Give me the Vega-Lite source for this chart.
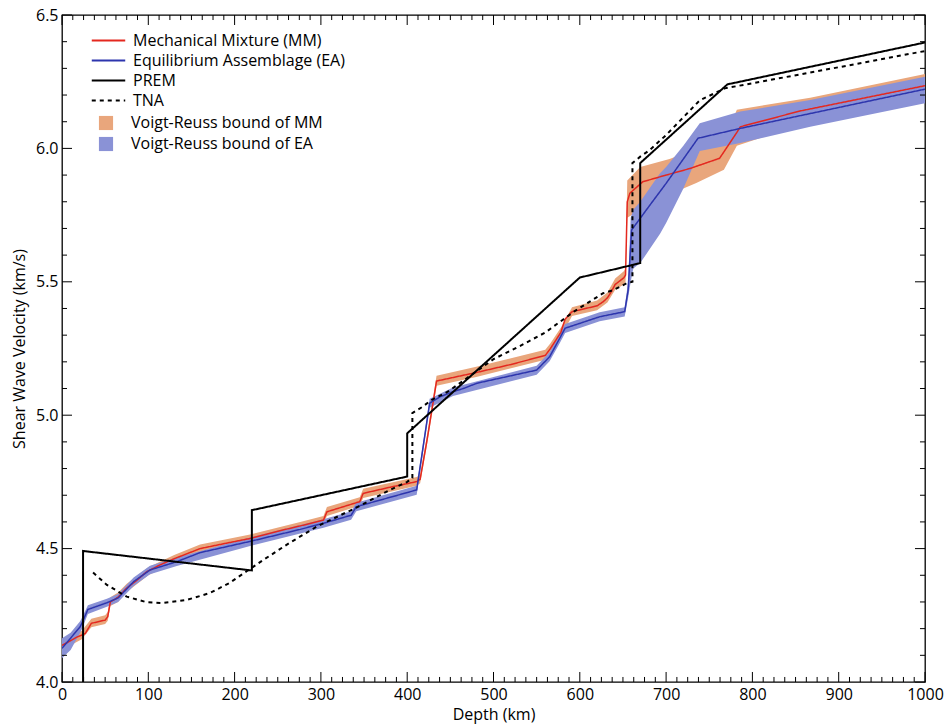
{
  "$schema": "https://vega.github.io/schema/vega-lite/v6.json",
  "width": 863,
  "height": 667,
  "autosize": {"type": "none"},
  "padding": {"left": 62, "top": 15, "right": 26, "bottom": 44},
  "background": "white",
  "config": {
    "view": {"stroke": "black", "strokeWidth": 1.3},
    "font": "Open Sans",
    "axis": {"grid": false, "labelFont": "Open Sans", "labelFontSize": 16, "labelColor": "black", "titleFont": "Open Sans", "titleFontSize": 16, "titleFontWeight": "normal", "titleColor": "black", "ticks": false, "domain": false, "labelFlush": false, "labelOverlap": false},
    "legend": {"labelFont": "Open Sans", "labelFontSize": 16, "labelColor": "black", "labelLimit": 0}
  },
  "datasets": {
    "xmaj": [{"v": 0}, {"v": 100}, {"v": 200}, {"v": 300}, {"v": 400}, {"v": 500}, {"v": 600}, {"v": 700}, {"v": 800}, {"v": 900}, {"v": 1000}],
    "xmin": [{"v": 12.5}, {"v": 25}, {"v": 37.5}, {"v": 50}, {"v": 62.5}, {"v": 75}, {"v": 87.5}, {"v": 112.5}, {"v": 125}, {"v": 137.5}, {"v": 150}, {"v": 162.5}, {"v": 175}, {"v": 187.5}, {"v": 212.5}, {"v": 225}, {"v": 237.5}, {"v": 250}, {"v": 262.5}, {"v": 275}, {"v": 287.5}, {"v": 312.5}, {"v": 325}, {"v": 337.5}, {"v": 350}, {"v": 362.5}, {"v": 375}, {"v": 387.5}, {"v": 412.5}, {"v": 425}, {"v": 437.5}, {"v": 450}, {"v": 462.5}, {"v": 475}, {"v": 487.5}, {"v": 512.5}, {"v": 525}, {"v": 537.5}, {"v": 550}, {"v": 562.5}, {"v": 575}, {"v": 587.5}, {"v": 612.5}, {"v": 625}, {"v": 637.5}, {"v": 650}, {"v": 662.5}, {"v": 675}, {"v": 687.5}, {"v": 712.5}, {"v": 725}, {"v": 737.5}, {"v": 750}, {"v": 762.5}, {"v": 775}, {"v": 787.5}, {"v": 812.5}, {"v": 825}, {"v": 837.5}, {"v": 850}, {"v": 862.5}, {"v": 875}, {"v": 887.5}, {"v": 912.5}, {"v": 925}, {"v": 937.5}, {"v": 950}, {"v": 962.5}, {"v": 975}, {"v": 987.5}],
    "ymaj": [{"v": 4.0}, {"v": 4.5}, {"v": 5.0}, {"v": 5.5}, {"v": 6.0}, {"v": 6.5}],
    "ymin": [{"v": 4.1}, {"v": 4.2}, {"v": 4.3}, {"v": 4.4}, {"v": 4.6}, {"v": 4.7}, {"v": 4.8}, {"v": 4.9}, {"v": 5.1}, {"v": 5.2}, {"v": 5.3}, {"v": 5.4}, {"v": 5.6}, {"v": 5.7}, {"v": 5.8}, {"v": 5.9}, {"v": 6.1}, {"v": 6.2}, {"v": 6.3}, {"v": 6.4}],
    "models": [
      {"series": "Mechanical Mixture (MM)", "i": 0, "depth": 0, "vs": 4.137},
      {"series": "Mechanical Mixture (MM)", "i": 1, "depth": 17, "vs": 4.168},
      {"series": "Mechanical Mixture (MM)", "i": 2, "depth": 23, "vs": 4.176},
      {"series": "Mechanical Mixture (MM)", "i": 3, "depth": 27, "vs": 4.182},
      {"series": "Mechanical Mixture (MM)", "i": 4, "depth": 34, "vs": 4.22},
      {"series": "Mechanical Mixture (MM)", "i": 5, "depth": 50, "vs": 4.232},
      {"series": "Mechanical Mixture (MM)", "i": 6, "depth": 53, "vs": 4.245},
      {"series": "Mechanical Mixture (MM)", "i": 7, "depth": 56, "vs": 4.3},
      {"series": "Mechanical Mixture (MM)", "i": 8, "depth": 65, "vs": 4.318},
      {"series": "Mechanical Mixture (MM)", "i": 9, "depth": 75, "vs": 4.352},
      {"series": "Mechanical Mixture (MM)", "i": 10, "depth": 87, "vs": 4.382},
      {"series": "Mechanical Mixture (MM)", "i": 11, "depth": 98, "vs": 4.413},
      {"series": "Mechanical Mixture (MM)", "i": 12, "depth": 113, "vs": 4.438},
      {"series": "Mechanical Mixture (MM)", "i": 13, "depth": 130, "vs": 4.462},
      {"series": "Mechanical Mixture (MM)", "i": 14, "depth": 160, "vs": 4.5},
      {"series": "Mechanical Mixture (MM)", "i": 15, "depth": 190, "vs": 4.52},
      {"series": "Mechanical Mixture (MM)", "i": 16, "depth": 218, "vs": 4.538},
      {"series": "Mechanical Mixture (MM)", "i": 17, "depth": 250, "vs": 4.565},
      {"series": "Mechanical Mixture (MM)", "i": 18, "depth": 276, "vs": 4.585},
      {"series": "Mechanical Mixture (MM)", "i": 19, "depth": 303, "vs": 4.607},
      {"series": "Mechanical Mixture (MM)", "i": 20, "depth": 307, "vs": 4.638},
      {"series": "Mechanical Mixture (MM)", "i": 21, "depth": 345, "vs": 4.676},
      {"series": "Mechanical Mixture (MM)", "i": 22, "depth": 349, "vs": 4.707},
      {"series": "Mechanical Mixture (MM)", "i": 23, "depth": 380, "vs": 4.73},
      {"series": "Mechanical Mixture (MM)", "i": 24, "depth": 411, "vs": 4.751},
      {"series": "Mechanical Mixture (MM)", "i": 25, "depth": 415, "vs": 4.76},
      {"series": "Mechanical Mixture (MM)", "i": 26, "depth": 423, "vs": 4.907},
      {"series": "Mechanical Mixture (MM)", "i": 27, "depth": 434, "vs": 5.128},
      {"series": "Mechanical Mixture (MM)", "i": 28, "depth": 480, "vs": 5.16},
      {"series": "Mechanical Mixture (MM)", "i": 29, "depth": 520, "vs": 5.19},
      {"series": "Mechanical Mixture (MM)", "i": 30, "depth": 560, "vs": 5.224},
      {"series": "Mechanical Mixture (MM)", "i": 31, "depth": 566, "vs": 5.25},
      {"series": "Mechanical Mixture (MM)", "i": 32, "depth": 578, "vs": 5.31},
      {"series": "Mechanical Mixture (MM)", "i": 33, "depth": 583, "vs": 5.36},
      {"series": "Mechanical Mixture (MM)", "i": 34, "depth": 591, "vs": 5.388},
      {"series": "Mechanical Mixture (MM)", "i": 35, "depth": 620, "vs": 5.41},
      {"series": "Mechanical Mixture (MM)", "i": 36, "depth": 627, "vs": 5.425},
      {"series": "Mechanical Mixture (MM)", "i": 37, "depth": 632, "vs": 5.44},
      {"series": "Mechanical Mixture (MM)", "i": 38, "depth": 636, "vs": 5.46},
      {"series": "Mechanical Mixture (MM)", "i": 39, "depth": 641, "vs": 5.49},
      {"series": "Mechanical Mixture (MM)", "i": 40, "depth": 651, "vs": 5.515},
      {"series": "Mechanical Mixture (MM)", "i": 41, "depth": 653, "vs": 5.525},
      {"series": "Mechanical Mixture (MM)", "i": 42, "depth": 655, "vs": 5.8},
      {"series": "Mechanical Mixture (MM)", "i": 43, "depth": 658, "vs": 5.832},
      {"series": "Mechanical Mixture (MM)", "i": 44, "depth": 673, "vs": 5.875},
      {"series": "Mechanical Mixture (MM)", "i": 45, "depth": 700, "vs": 5.9},
      {"series": "Mechanical Mixture (MM)", "i": 46, "depth": 728, "vs": 5.925},
      {"series": "Mechanical Mixture (MM)", "i": 47, "depth": 762, "vs": 5.963},
      {"series": "Mechanical Mixture (MM)", "i": 48, "depth": 782, "vs": 6.06},
      {"series": "Mechanical Mixture (MM)", "i": 49, "depth": 786, "vs": 6.081},
      {"series": "Mechanical Mixture (MM)", "i": 50, "depth": 855, "vs": 6.14},
      {"series": "Mechanical Mixture (MM)", "i": 51, "depth": 1000, "vs": 6.235},
      {"series": "Equilibrium Assemblage (EA)", "i": 0, "depth": 0, "vs": 4.126},
      {"series": "Equilibrium Assemblage (EA)", "i": 1, "depth": 21, "vs": 4.207},
      {"series": "Equilibrium Assemblage (EA)", "i": 2, "depth": 23, "vs": 4.22},
      {"series": "Equilibrium Assemblage (EA)", "i": 3, "depth": 30, "vs": 4.272},
      {"series": "Equilibrium Assemblage (EA)", "i": 4, "depth": 52, "vs": 4.297},
      {"series": "Equilibrium Assemblage (EA)", "i": 5, "depth": 65, "vs": 4.315},
      {"series": "Equilibrium Assemblage (EA)", "i": 6, "depth": 83, "vs": 4.376},
      {"series": "Equilibrium Assemblage (EA)", "i": 7, "depth": 102, "vs": 4.42},
      {"series": "Equilibrium Assemblage (EA)", "i": 8, "depth": 133, "vs": 4.451},
      {"series": "Equilibrium Assemblage (EA)", "i": 9, "depth": 160, "vs": 4.485},
      {"series": "Equilibrium Assemblage (EA)", "i": 10, "depth": 218, "vs": 4.527},
      {"series": "Equilibrium Assemblage (EA)", "i": 11, "depth": 276, "vs": 4.572},
      {"series": "Equilibrium Assemblage (EA)", "i": 12, "depth": 303, "vs": 4.595},
      {"series": "Equilibrium Assemblage (EA)", "i": 13, "depth": 335, "vs": 4.625},
      {"series": "Equilibrium Assemblage (EA)", "i": 14, "depth": 341, "vs": 4.657},
      {"series": "Equilibrium Assemblage (EA)", "i": 15, "depth": 411, "vs": 4.72},
      {"series": "Equilibrium Assemblage (EA)", "i": 16, "depth": 426, "vs": 5.045},
      {"series": "Equilibrium Assemblage (EA)", "i": 17, "depth": 438, "vs": 5.069},
      {"series": "Equilibrium Assemblage (EA)", "i": 18, "depth": 453, "vs": 5.088},
      {"series": "Equilibrium Assemblage (EA)", "i": 19, "depth": 465, "vs": 5.1},
      {"series": "Equilibrium Assemblage (EA)", "i": 20, "depth": 481, "vs": 5.12},
      {"series": "Equilibrium Assemblage (EA)", "i": 21, "depth": 550, "vs": 5.169},
      {"series": "Equilibrium Assemblage (EA)", "i": 22, "depth": 565, "vs": 5.219},
      {"series": "Equilibrium Assemblage (EA)", "i": 23, "depth": 577, "vs": 5.29},
      {"series": "Equilibrium Assemblage (EA)", "i": 24, "depth": 583, "vs": 5.326},
      {"series": "Equilibrium Assemblage (EA)", "i": 25, "depth": 623, "vs": 5.369},
      {"series": "Equilibrium Assemblage (EA)", "i": 26, "depth": 652, "vs": 5.388},
      {"series": "Equilibrium Assemblage (EA)", "i": 27, "depth": 656, "vs": 5.469},
      {"series": "Equilibrium Assemblage (EA)", "i": 28, "depth": 660, "vs": 5.694},
      {"series": "Equilibrium Assemblage (EA)", "i": 29, "depth": 677, "vs": 5.769},
      {"series": "Equilibrium Assemblage (EA)", "i": 30, "depth": 700, "vs": 5.869},
      {"series": "Equilibrium Assemblage (EA)", "i": 31, "depth": 737, "vs": 6.038},
      {"series": "Equilibrium Assemblage (EA)", "i": 32, "depth": 778, "vs": 6.069},
      {"series": "Equilibrium Assemblage (EA)", "i": 33, "depth": 786, "vs": 6.075},
      {"series": "Equilibrium Assemblage (EA)", "i": 34, "depth": 1000, "vs": 6.222}
    ],
    "refs": [
      {"series": "PREM", "i": 0, "depth": 24.4, "vs": 4.0},
      {"series": "PREM", "i": 1, "depth": 24.4, "vs": 4.491},
      {"series": "PREM", "i": 2, "depth": 220, "vs": 4.418},
      {"series": "PREM", "i": 3, "depth": 220, "vs": 4.644},
      {"series": "PREM", "i": 4, "depth": 400, "vs": 4.77},
      {"series": "PREM", "i": 5, "depth": 400, "vs": 4.932},
      {"series": "PREM", "i": 6, "depth": 600, "vs": 5.516},
      {"series": "PREM", "i": 7, "depth": 670, "vs": 5.57},
      {"series": "PREM", "i": 8, "depth": 670, "vs": 5.945},
      {"series": "PREM", "i": 9, "depth": 771, "vs": 6.24},
      {"series": "PREM", "i": 10, "depth": 1000, "vs": 6.397},
      {"series": "TNA", "i": 0, "depth": 36, "vs": 4.41},
      {"series": "TNA", "i": 1, "depth": 52, "vs": 4.364},
      {"series": "TNA", "i": 2, "depth": 75, "vs": 4.32},
      {"series": "TNA", "i": 3, "depth": 98, "vs": 4.299},
      {"series": "TNA", "i": 4, "depth": 117, "vs": 4.296},
      {"series": "TNA", "i": 5, "depth": 144, "vs": 4.307},
      {"series": "TNA", "i": 6, "depth": 171, "vs": 4.333},
      {"series": "TNA", "i": 7, "depth": 194, "vs": 4.371},
      {"series": "TNA", "i": 8, "depth": 214, "vs": 4.415},
      {"series": "TNA", "i": 9, "depth": 233, "vs": 4.457},
      {"series": "TNA", "i": 10, "depth": 263, "vs": 4.52},
      {"series": "TNA", "i": 11, "depth": 295, "vs": 4.582},
      {"series": "TNA", "i": 12, "depth": 345, "vs": 4.66},
      {"series": "TNA", "i": 13, "depth": 380, "vs": 4.72},
      {"series": "TNA", "i": 14, "depth": 400, "vs": 4.75},
      {"series": "TNA", "i": 15, "depth": 406, "vs": 4.765},
      {"series": "TNA", "i": 16, "depth": 406, "vs": 5.008},
      {"series": "TNA", "i": 17, "depth": 418, "vs": 5.032},
      {"series": "TNA", "i": 18, "depth": 428, "vs": 5.057},
      {"series": "TNA", "i": 19, "depth": 447, "vs": 5.088},
      {"series": "TNA", "i": 20, "depth": 500, "vs": 5.21},
      {"series": "TNA", "i": 21, "depth": 531, "vs": 5.26},
      {"series": "TNA", "i": 22, "depth": 560, "vs": 5.31},
      {"series": "TNA", "i": 23, "depth": 577, "vs": 5.35},
      {"series": "TNA", "i": 24, "depth": 594, "vs": 5.39},
      {"series": "TNA", "i": 25, "depth": 627, "vs": 5.457},
      {"series": "TNA", "i": 26, "depth": 639, "vs": 5.469},
      {"series": "TNA", "i": 27, "depth": 654, "vs": 5.494},
      {"series": "TNA", "i": 28, "depth": 661, "vs": 5.5},
      {"series": "TNA", "i": 29, "depth": 661, "vs": 5.945},
      {"series": "TNA", "i": 30, "depth": 670, "vs": 5.969},
      {"series": "TNA", "i": 31, "depth": 681, "vs": 5.994},
      {"series": "TNA", "i": 32, "depth": 700, "vs": 6.05},
      {"series": "TNA", "i": 33, "depth": 739, "vs": 6.18},
      {"series": "TNA", "i": 34, "depth": 768, "vs": 6.225},
      {"series": "TNA", "i": 35, "depth": 893, "vs": 6.3},
      {"series": "TNA", "i": 36, "depth": 1000, "vs": 6.365}
    ],
    "bandMM": [
      {"band": "Voigt-Reuss bound of MM", "depth": 0, "lo": 4.12, "hi": 4.155},
      {"band": "Voigt-Reuss bound of MM", "depth": 17, "lo": 4.15, "hi": 4.185},
      {"band": "Voigt-Reuss bound of MM", "depth": 23, "lo": 4.16, "hi": 4.192},
      {"band": "Voigt-Reuss bound of MM", "depth": 34, "lo": 4.205, "hi": 4.237},
      {"band": "Voigt-Reuss bound of MM", "depth": 50, "lo": 4.217, "hi": 4.25},
      {"band": "Voigt-Reuss bound of MM", "depth": 53, "lo": 4.23, "hi": 4.262},
      {"band": "Voigt-Reuss bound of MM", "depth": 56, "lo": 4.285, "hi": 4.318},
      {"band": "Voigt-Reuss bound of MM", "depth": 65, "lo": 4.3, "hi": 4.335},
      {"band": "Voigt-Reuss bound of MM", "depth": 75, "lo": 4.337, "hi": 4.368},
      {"band": "Voigt-Reuss bound of MM", "depth": 100, "lo": 4.4, "hi": 4.43},
      {"band": "Voigt-Reuss bound of MM", "depth": 130, "lo": 4.447, "hi": 4.476},
      {"band": "Voigt-Reuss bound of MM", "depth": 160, "lo": 4.487, "hi": 4.515},
      {"band": "Voigt-Reuss bound of MM", "depth": 218, "lo": 4.524, "hi": 4.553},
      {"band": "Voigt-Reuss bound of MM", "depth": 276, "lo": 4.571, "hi": 4.6},
      {"band": "Voigt-Reuss bound of MM", "depth": 303, "lo": 4.594, "hi": 4.622},
      {"band": "Voigt-Reuss bound of MM", "depth": 307, "lo": 4.622, "hi": 4.656},
      {"band": "Voigt-Reuss bound of MM", "depth": 345, "lo": 4.661, "hi": 4.692},
      {"band": "Voigt-Reuss bound of MM", "depth": 349, "lo": 4.69, "hi": 4.724},
      {"band": "Voigt-Reuss bound of MM", "depth": 411, "lo": 4.736, "hi": 4.768},
      {"band": "Voigt-Reuss bound of MM", "depth": 415, "lo": 4.745, "hi": 4.777},
      {"band": "Voigt-Reuss bound of MM", "depth": 423, "lo": 4.89, "hi": 4.925},
      {"band": "Voigt-Reuss bound of MM", "depth": 434, "lo": 5.11, "hi": 5.148},
      {"band": "Voigt-Reuss bound of MM", "depth": 480, "lo": 5.143, "hi": 5.182},
      {"band": "Voigt-Reuss bound of MM", "depth": 560, "lo": 5.208, "hi": 5.245},
      {"band": "Voigt-Reuss bound of MM", "depth": 566, "lo": 5.235, "hi": 5.27},
      {"band": "Voigt-Reuss bound of MM", "depth": 578, "lo": 5.293, "hi": 5.328},
      {"band": "Voigt-Reuss bound of MM", "depth": 591, "lo": 5.372, "hi": 5.405},
      {"band": "Voigt-Reuss bound of MM", "depth": 620, "lo": 5.393, "hi": 5.43},
      {"band": "Voigt-Reuss bound of MM", "depth": 632, "lo": 5.422, "hi": 5.46},
      {"band": "Voigt-Reuss bound of MM", "depth": 641, "lo": 5.47, "hi": 5.512},
      {"band": "Voigt-Reuss bound of MM", "depth": 651, "lo": 5.49, "hi": 5.54},
      {"band": "Voigt-Reuss bound of MM", "depth": 653, "lo": 5.5, "hi": 5.55},
      {"band": "Voigt-Reuss bound of MM", "depth": 655, "lo": 5.74, "hi": 5.88},
      {"band": "Voigt-Reuss bound of MM", "depth": 670, "lo": 5.77, "hi": 5.93},
      {"band": "Voigt-Reuss bound of MM", "depth": 704, "lo": 5.82, "hi": 5.96},
      {"band": "Voigt-Reuss bound of MM", "depth": 720, "lo": 5.85, "hi": 5.98},
      {"band": "Voigt-Reuss bound of MM", "depth": 735, "lo": 5.87, "hi": 6.0},
      {"band": "Voigt-Reuss bound of MM", "depth": 767, "lo": 5.92, "hi": 6.03},
      {"band": "Voigt-Reuss bound of MM", "depth": 782, "lo": 6.01, "hi": 6.145},
      {"band": "Voigt-Reuss bound of MM", "depth": 867, "lo": 6.1, "hi": 6.19},
      {"band": "Voigt-Reuss bound of MM", "depth": 1000, "lo": 6.19, "hi": 6.279}
    ],
    "bandEA": [
      {"band": "Voigt-Reuss bound of EA", "depth": 0, "lo": 4.089, "hi": 4.164},
      {"band": "Voigt-Reuss bound of EA", "depth": 10, "lo": 4.12, "hi": 4.185},
      {"band": "Voigt-Reuss bound of EA", "depth": 21, "lo": 4.185, "hi": 4.228},
      {"band": "Voigt-Reuss bound of EA", "depth": 23, "lo": 4.198, "hi": 4.24},
      {"band": "Voigt-Reuss bound of EA", "depth": 30, "lo": 4.255, "hi": 4.288},
      {"band": "Voigt-Reuss bound of EA", "depth": 52, "lo": 4.282, "hi": 4.312},
      {"band": "Voigt-Reuss bound of EA", "depth": 65, "lo": 4.3, "hi": 4.33},
      {"band": "Voigt-Reuss bound of EA", "depth": 83, "lo": 4.36, "hi": 4.392},
      {"band": "Voigt-Reuss bound of EA", "depth": 102, "lo": 4.404, "hi": 4.436},
      {"band": "Voigt-Reuss bound of EA", "depth": 133, "lo": 4.435, "hi": 4.467},
      {"band": "Voigt-Reuss bound of EA", "depth": 218, "lo": 4.51, "hi": 4.542},
      {"band": "Voigt-Reuss bound of EA", "depth": 303, "lo": 4.578, "hi": 4.61},
      {"band": "Voigt-Reuss bound of EA", "depth": 335, "lo": 4.608, "hi": 4.64},
      {"band": "Voigt-Reuss bound of EA", "depth": 341, "lo": 4.64, "hi": 4.672},
      {"band": "Voigt-Reuss bound of EA", "depth": 411, "lo": 4.702, "hi": 4.736},
      {"band": "Voigt-Reuss bound of EA", "depth": 426, "lo": 5.028, "hi": 5.062},
      {"band": "Voigt-Reuss bound of EA", "depth": 453, "lo": 5.072, "hi": 5.104},
      {"band": "Voigt-Reuss bound of EA", "depth": 550, "lo": 5.152, "hi": 5.185},
      {"band": "Voigt-Reuss bound of EA", "depth": 565, "lo": 5.202, "hi": 5.236},
      {"band": "Voigt-Reuss bound of EA", "depth": 577, "lo": 5.272, "hi": 5.306},
      {"band": "Voigt-Reuss bound of EA", "depth": 583, "lo": 5.308, "hi": 5.342},
      {"band": "Voigt-Reuss bound of EA", "depth": 623, "lo": 5.352, "hi": 5.386},
      {"band": "Voigt-Reuss bound of EA", "depth": 652, "lo": 5.37, "hi": 5.405},
      {"band": "Voigt-Reuss bound of EA", "depth": 656, "lo": 5.44, "hi": 5.5},
      {"band": "Voigt-Reuss bound of EA", "depth": 659, "lo": 5.5, "hi": 5.74},
      {"band": "Voigt-Reuss bound of EA", "depth": 662, "lo": 5.55, "hi": 5.77},
      {"band": "Voigt-Reuss bound of EA", "depth": 670, "lo": 5.57, "hi": 5.8},
      {"band": "Voigt-Reuss bound of EA", "depth": 693, "lo": 5.68, "hi": 5.907},
      {"band": "Voigt-Reuss bound of EA", "depth": 700, "lo": 5.72, "hi": 5.93},
      {"band": "Voigt-Reuss bound of EA", "depth": 720, "lo": 5.85, "hi": 6.01},
      {"band": "Voigt-Reuss bound of EA", "depth": 739, "lo": 5.99, "hi": 6.094},
      {"band": "Voigt-Reuss bound of EA", "depth": 786, "lo": 6.02, "hi": 6.138},
      {"band": "Voigt-Reuss bound of EA", "depth": 867, "lo": 6.081, "hi": 6.181},
      {"band": "Voigt-Reuss bound of EA", "depth": 1000, "lo": 6.169, "hi": 6.269}
    ]
  },
  "layer": [
    {
      "data": {"name": "bandMM"},
      "mark": {"type": "area", "clip": true},
      "encoding": {
        "x": {"field": "depth", "type": "quantitative", "scale": {"domain": [0, 1000], "nice": false, "zero": false},
          "axis": {"orient": "bottom", "title": "Depth (km)", "format": "d", "values": [0, 100, 200, 300, 400, 500, 600, 700, 800, 900, 1000], "labelPadding": 4, "titlePadding": 4}},
        "y": {"field": "lo", "type": "quantitative", "scale": {"domain": [4.0, 6.5], "nice": false, "zero": false},
          "axis": {"orient": "left", "title": "Shear Wave Velocity (km/s)", "values": [4.0, 4.5, 5.0, 5.5, 6.0, 6.5], "format": ".1f", "labelPadding": 4, "titlePadding": 8}},
        "y2": {"field": "hi"},
        "fill": {"field": "band", "type": "nominal",
          "scale": {"domain": ["Voigt-Reuss bound of MM", "Voigt-Reuss bound of EA"], "range": ["#e9a67c", "#8a92d6"]},
          "legend": {"title": null, "orient": "none", "legendX": 36, "legendY": 100, "symbolType": "square", "symbolSize": 200, "symbolStrokeWidth": 0, "symbolOpacity": 1, "labelOffset": 17, "rowPadding": 5}}
      }
    },
    {
      "data": {"name": "bandEA"},
      "mark": {"type": "area", "clip": true},
      "encoding": {
        "x": {"field": "depth", "type": "quantitative"},
        "y": {"field": "lo", "type": "quantitative"},
        "y2": {"field": "hi"},
        "fill": {"field": "band", "type": "nominal",
          "legend": {"title": null, "orient": "none", "legendX": 36, "legendY": 100, "symbolType": "square", "symbolSize": 200, "symbolStrokeWidth": 0, "symbolOpacity": 1, "labelOffset": 17, "rowPadding": 5}}
      }
    },
    {
      "data": {"name": "models"},
      "mark": {"type": "line", "clip": true, "strokeWidth": 1.5},
      "encoding": {
        "x": {"field": "depth", "type": "quantitative"},
        "y": {"field": "vs", "type": "quantitative"},
        "order": {"field": "i", "type": "quantitative"},
        "stroke": {"field": "series", "type": "nominal",
          "scale": {"domain": ["Mechanical Mixture (MM)", "Equilibrium Assemblage (EA)", "PREM", "TNA"], "range": ["#e4281f", "#2d35ad", "#000000", "#000000"]},
          "legend": {"title": null, "orient": "none", "legendX": 37, "legendY": 16, "symbolType": "M-2,0H2", "symbolSize": 280, "symbolStrokeWidth": 1.8, "labelOffset": 15, "rowPadding": 2}},
        "strokeDash": {"field": "series", "type": "nominal",
          "scale": {"domain": ["Mechanical Mixture (MM)", "Equilibrium Assemblage (EA)", "PREM", "TNA"], "range": [[1, 0], [1, 0], [1, 0], [4, 4]]},
          "legend": {"title": null, "orient": "none", "legendX": 37, "legendY": 16, "symbolType": "M-2,0H2", "symbolSize": 280, "symbolStrokeWidth": 1.8, "labelOffset": 15, "rowPadding": 2}}
      }
    },
    {
      "data": {"name": "refs"},
      "mark": {"type": "line", "clip": true, "strokeWidth": 2},
      "encoding": {
        "x": {"field": "depth", "type": "quantitative"},
        "y": {"field": "vs", "type": "quantitative"},
        "order": {"field": "i", "type": "quantitative"},
        "stroke": {"field": "series", "type": "nominal",
          "legend": {"title": null, "orient": "none", "legendX": 37, "legendY": 16, "symbolType": "M-2,0H2", "symbolSize": 280, "symbolStrokeWidth": 1.8, "labelOffset": 15, "rowPadding": 2}},
        "strokeDash": {"field": "series", "type": "nominal",
          "legend": {"title": null, "orient": "none", "legendX": 37, "legendY": 16, "symbolType": "M-2,0H2", "symbolSize": 280, "symbolStrokeWidth": 1.8, "labelOffset": 15, "rowPadding": 2}}
      }
    },
    {
      "data": {"name": "xmaj"},
      "mark": {"type": "rule", "color": "black", "strokeWidth": 1},
      "encoding": {"x": {"field": "v", "type": "quantitative"}, "y": {"datum": 4.0, "type": "quantitative"}, "y2": {"datum": 4.0375}}
    },
    {
      "data": {"name": "xmaj"},
      "mark": {"type": "rule", "color": "black", "strokeWidth": 1},
      "encoding": {"x": {"field": "v", "type": "quantitative"}, "y": {"datum": 6.5, "type": "quantitative"}, "y2": {"datum": 6.4625}}
    },
    {
      "data": {"name": "xmin"},
      "mark": {"type": "rule", "color": "black", "strokeWidth": 1},
      "encoding": {"x": {"field": "v", "type": "quantitative"}, "y": {"datum": 4.0, "type": "quantitative"}, "y2": {"datum": 4.0188}}
    },
    {
      "data": {"name": "xmin"},
      "mark": {"type": "rule", "color": "black", "strokeWidth": 1},
      "encoding": {"x": {"field": "v", "type": "quantitative"}, "y": {"datum": 6.5, "type": "quantitative"}, "y2": {"datum": 6.4812}}
    },
    {
      "data": {"name": "ymaj"},
      "mark": {"type": "rule", "color": "black", "strokeWidth": 1},
      "encoding": {"y": {"field": "v", "type": "quantitative"}, "x": {"datum": 0, "type": "quantitative"}, "x2": {"datum": 11.6}}
    },
    {
      "data": {"name": "ymaj"},
      "mark": {"type": "rule", "color": "black", "strokeWidth": 1},
      "encoding": {"y": {"field": "v", "type": "quantitative"}, "x": {"datum": 1000, "type": "quantitative"}, "x2": {"datum": 988.4}}
    },
    {
      "data": {"name": "ymin"},
      "mark": {"type": "rule", "color": "black", "strokeWidth": 1},
      "encoding": {"y": {"field": "v", "type": "quantitative"}, "x": {"datum": 0, "type": "quantitative"}, "x2": {"datum": 5.8}}
    },
    {
      "data": {"name": "ymin"},
      "mark": {"type": "rule", "color": "black", "strokeWidth": 1},
      "encoding": {"y": {"field": "v", "type": "quantitative"}, "x": {"datum": 1000, "type": "quantitative"}, "x2": {"datum": 994.2}}
    }
  ]
}
